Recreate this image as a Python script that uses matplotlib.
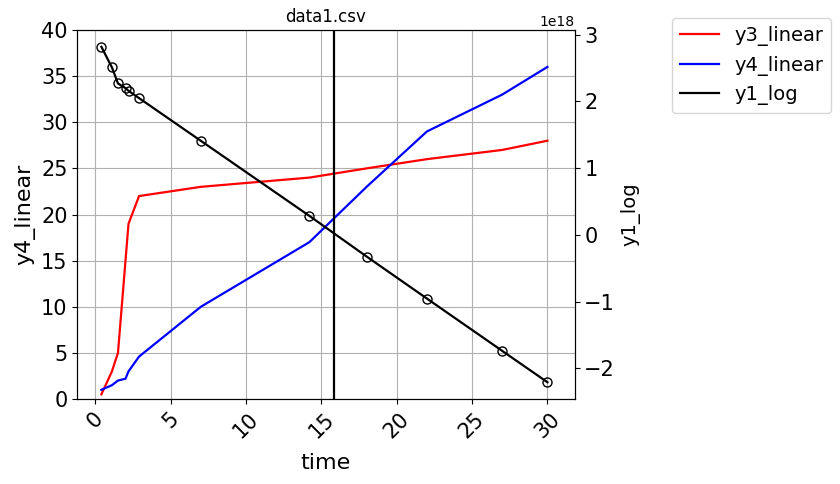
import numpy as np
import matplotlib
matplotlib.use("Agg")
import matplotlib.pyplot as plt

# values
time = [0.4, 1.1, 1.5, 2.0, 2.2, 2.9, 7, 14.2, 18, 22, 27, 30]
y3_linear = [0.5, 3, 5, 15, 19, 22, 23, 24, 25, 26, 27, 28]
y4_linear = [1, 1.5, 2, 2.2, 3, 4.6, 10, 17, 23, 29, 33, 36]
y1_log = [2.82e18, 2.51e18, 2.27e18, 2.2e18, 2.16e18, 2.05e18,
          1.41e18, 0.285e18, -0.325e18, -0.955e18, -1.74e18, -2.21e18]
vline_x = 15.85

fig = plt.figure(figsize=(8.4, 4.84), dpi=100)
ax = fig.add_axes([0.092, 0.1756, 0.592, 0.7624])

l3, = ax.plot(time, y3_linear, color="red", lw=1.6, label="y3_linear")
l4, = ax.plot(time, y4_linear, color="blue", lw=1.6, label="y4_linear")
ax.axvline(vline_x, color="black", lw=1.6)
ax.set_ylim(0, 40)
ax.set_xlim(-1.2, 31.8)
ax.grid(True, color="#b0b0b0")
ax.set_xlabel("time", fontsize=16, labelpad=8)
ax.set_ylabel("y4_linear", fontsize=16)
ax.tick_params(axis="both", labelsize=15)
ax.tick_params(axis="x", labelrotation=45)
ax.set_title("data1.csv", fontsize=12)

ax2 = ax.twinx()
l1, = ax2.plot(time, y1_log, color="black", lw=1.6, label="y1_log")
ax2.plot(time, y1_log, "o", color="black", mfc="none", ms=6.5)
ax2.set_ylabel("y1_log", fontsize=14)
ax2.tick_params(axis="y", labelsize=15)

fig.legend(handles=[l3, l4, l1], loc="upper left", fontsize=14,
           bbox_to_anchor=(672 / 840, 1 - 18 / 484), borderaxespad=0)

fig.savefig("out.png", dpi=100)
